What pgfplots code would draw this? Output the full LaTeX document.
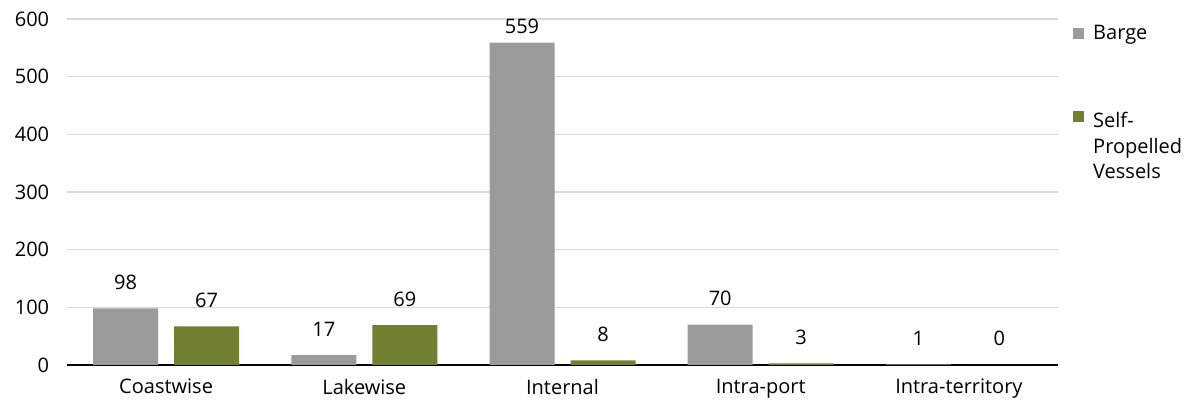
\documentclass[border=0pt]{standalone}
\usepackage{pgfplots}
\pgfplotsset{compat=1.18}
\usepackage{fontspec}
\setmainfont{Open Sans}
\definecolor{barge}{RGB}{155,155,155}
\definecolor{selfp}{RGB}{112,128,48}
\definecolor{gridc}{RGB}{217,217,217}
\begin{document}
\fontsize{20}{25.5}\selectfont
\begin{tikzpicture}
\useasboundingbox (-67pt,-36pt) rectangle (1118pt,365pt);
\begin{axis}[
  at={(0,0)}, anchor=south west,
  scale only axis, width=991pt, height=346pt,
  xmin=-0.5, xmax=4.5, ymin=0, ymax=600,
  ytick={0,100,...,600},
  xtick={0,1,2,3,4},
  xticklabels={Coastwise,Lakewise,Internal,Intra-port,Intra-territory},
  ymajorgrids, grid style={draw=gridc, line width=1.5pt},
  axis x line*=bottom,
  x axis line style={draw=black, line width=2pt, -},
  axis y line*=left,
  y axis line style={draw=none},
  major tick length=0pt,
  tick style={draw=none},
  ybar=16pt, bar width=65pt,
  tick label style={font=\fontsize{20}{22}\selectfont},
  /pgf/number format/assume math mode=true,
  yticklabel style={xshift=-11pt},
  xticklabel style={yshift=-7pt},
  visualization depends on={y \as \rawy},
  nodes near coords,
  nodes near coords style={font=\fontsize{20}{22}\selectfont, anchor=base, inner sep=0pt,
    yshift={ifthenelse(\rawy>500,9,19)}},
  legend style={at={(1006pt,342pt)}, anchor=north west, draw=none, fill=none,
    font=\fontsize{20}{25.5}\selectfont, cells={anchor=west, align=left},
    row sep=66pt, column sep=7pt, inner sep=0pt},
  clip=false,
]
\addplot[fill=barge, draw=none,
  legend image code/.code={\fill[barge] (0pt,-5.5pt) rectangle (11pt,5.5pt);}]
  coordinates {(0,98) (1,17) (2,559) (3,70) (4,1)};
\addplot[fill=selfp, draw=none,
  legend image code/.code={\fill[selfp] (0pt,25pt) rectangle (11pt,36pt);}]
  coordinates {(0,67) (1,69) (2,8) (3,3) (4,0)};
\legend{Barge, {Self-\\Propelled\\Vessels}}
\end{axis}
\end{tikzpicture}
\end{document}
